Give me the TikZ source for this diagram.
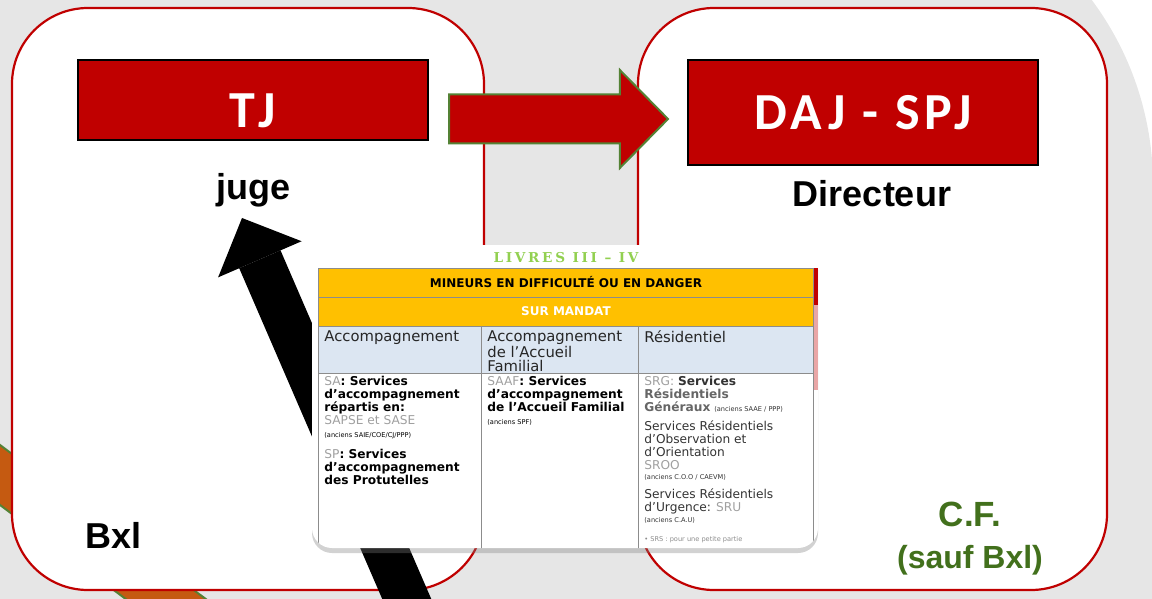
\documentclass[tikz,border=0pt]{standalone}
\usepackage{fontspec}
\setmainfont{Liberation Sans}
\newfontfamily\boxfont[LetterSpace=10]{Carlito}
\newfontfamily\tabfont{DejaVu Sans}
\newfontfamily\livfont[LetterSpace=20]{DejaVu Serif}
\usetikzlibrary{arrows.meta,shapes.arrows,shadows,positioning}

\definecolor{panelred}{RGB}{192,0,0}
\definecolor{bggrey}{RGB}{230,230,230}
\definecolor{cfgreen}{RGB}{66,112,28}
\definecolor{edgegreen}{RGB}{84,130,53}
\definecolor{stripor}{RGB}{197,90,17}
\definecolor{tabor}{RGB}{255,192,0}
\definecolor{tabblue}{RGB}{220,230,242}
\definecolor{livgreen}{RGB}{146,208,80}
\definecolor{abbrgrey}{RGB}{160,160,160}

\newcommand{\ab}[1]{\textcolor{abbrgrey}{#1}}
\newcommand{\anc}[1]{{\fontsize{3.3}{3.6}\selectfont\mdseries #1}}

\begin{document}
\begin{tikzpicture}[
  x=0.5pt, y=-0.5pt,
  panel/.style = {rectangle, draw=panelred, line width=1.1pt, fill=white,
                  rounded corners=38pt, minimum height=291pt, inner sep=0pt},
  titlebox/.style = {rectangle, draw=black, line width=0.9pt, fill=panelred,
                     text=white, minimum width=175pt, inner sep=0pt,
                     font=\boxfont\bfseries\fontsize{26}{28}\selectfont},
  role/.style = {inner sep=0pt, font=\bfseries\fontsize{18}{20}\selectfont},
  flowarrow/.style = {single arrow, draw=edgegreen, line width=1pt, fill=panelred,
                      minimum height=109.5pt, inner xsep=0pt, inner ysep=11.75pt,
                      single arrow head extend=12.25pt, single arrow tip angle=91},
  bigarrow/.style = {line width=22.5pt,
                     -{Triangle[length=22.5pt, width=45.5pt, line width=0pt]}},
  tabframe/.style = {rectangle, fill=white, rounded corners=10pt,
                     minimum width=253pt, minimum height=151.5pt,
                     drop shadow={opacity=0.35, shadow xshift=0pt, shadow yshift=-2.5pt}},
  tabline/.style = {draw=black!45, line width=0.4pt},
  band/.style = {inner sep=0pt, font=\tabfont\bfseries\fontsize{6}{7}\selectfont},
  hdr/.style = {anchor=north west, inner sep=0pt, align=left, text=black!85,
                font=\tabfont\fontsize{7.4}{7}\selectfont},
  cell/.style = {anchor=north west, inner sep=0pt, align=left,
                 font=\tabfont\fontsize{6.1}{6.5}\selectfont}
]
\useasboundingbox (0,0) rectangle (1152,599);

% Background
\fill[bggrey, rounded corners=155pt] (-400,-125) rectangle (1153,900);

% Orange strip behind the Bxl panel
\draw[fill=stripor, draw=edgegreen, line width=1pt]
  (-20,430) -- (330,692) -- (250,692) -- (-20,490) -- cycle;

% The two regions
\node[panel, minimum width=236pt] (bxl) at (248,299) {};
\node[panel, minimum width=234.5pt] (cf) at (872.5,299) {};

% Top: the two authorities
\node[titlebox, minimum height=40pt, text height=28pt, text depth=0pt]
  (tj) at (253,100) {TJ};
\node[titlebox, minimum height=52.5pt] (dajspj) at (863,112.5) {DAJ - SPJ};

\node[role, below=16pt of tj] (juge) {juge};
\node[role, below=7pt of dajspj, xshift=4.5pt] (directeur) {Directeur};

% Region names
\node[role] (bxlname) at (114,535) {Bxl};
\node[role, text=cfgreen, align=center, font=\bfseries\fontsize{17.5}{21}\selectfont]
  (cfname) at (970,539) {C.F.\\{\fontsize{16}{18}\selectfont (sauf Bxl)}};

% Transfer TJ -> DAJ
\node[flowarrow, anchor=tail] (flow) at (448,119) {};

% Appeal back to the judge
\coordinate (blkfoot) at (418,625);
\coordinate (blktip) at (242,218);
\draw[bigarrow] (blkfoot) -- (blktip);

% Table of the services
\node[tabframe] (tabimg) at (565,396.5) {};
\begin{scope}
  \clip[rounded corners=10pt] (312,245) rectangle (818,548);
  \fill[tabor] (318,268) rectangle (813,326);
  \fill[tabblue] (318,326) rectangle (813,373);
  \fill[panelred] (813,268) rectangle (818,305);
  \fill[panelred!35] (813,305) rectangle (818,390);
  \draw[tabline] (318,268) rectangle (813,560);
  \draw[tabline] (318,297) -- (813,297);
  \draw[tabline] (318,326) -- (813,326);
  \draw[tabline] (318,373) -- (813,373);
  \draw[tabline] (481,326) -- (481,560);
  \draw[tabline] (638,326) -- (638,560);
\end{scope}

\node[inner sep=0pt, text=livgreen, font=\livfont\bfseries\fontsize{6.8}{7}\selectfont]
  (livres) at (566,258) {LIVRES III – IV};
\node[band] (mineurs) at (566,282) {MINEURS EN DIFFICULTÉ OU EN DANGER};
\node[band, text=white] (mandat) at (566,311) {SUR MANDAT};

\node[hdr] (hdrA) at (324,330) {Accompagnement};
\node[hdr] (hdrB) at (487,330) {Accompagnement\\de l’Accueil\\Familial};
\node[hdr] (hdrC) at (644,330) {Résidentiel};

\node[cell] (bodyA) at (324,376) {%
  \ab{SA}\textbf{: Services}\\
  \textbf{d’accompagnement}\\
  \textbf{répartis en:}\\
  \ab{SAPSE et SASE}\\
  \anc{(anciens SAIE/COE/CJ/PPP)}\\[4pt]
  \ab{SP}\textbf{: Services}\\
  \textbf{d’accompagnement}\\
  \textbf{des Protutelles}};
\node[cell] (bodyB) at (487,376) {%
  \ab{SAAF}\textbf{: Services}\\
  \textbf{d’accompagnement}\\
  \textbf{de l’Accueil Familial}\\
  \anc{(anciens SPF)}};
\node[cell, text=black!80] (bodyC) at (644,376) {%
  \ab{SRG:} \textbf{Services}\\
  \textcolor{black!60}{\textbf{Résidentiels}}\\
  \textcolor{black!60}{\textbf{Généraux}} \anc{(anciens SAAE / PPP)}\\[3pt]
  Services Résidentiels\\
  d’Observation et\\
  d’Orientation\\
  \ab{SROO}\\[-1.5pt]
  \anc{(anciens C.O.O / CAEVM)}\\[3pt]
  Services Résidentiels\\
  d’Urgence: \ab{SRU}\\[-1pt]
  \anc{(anciens C.A.U)}\\[3pt]
  \textcolor{black!45}{\anc{• SRS : pour une petite partie}}};

\end{tikzpicture}
\end{document}
